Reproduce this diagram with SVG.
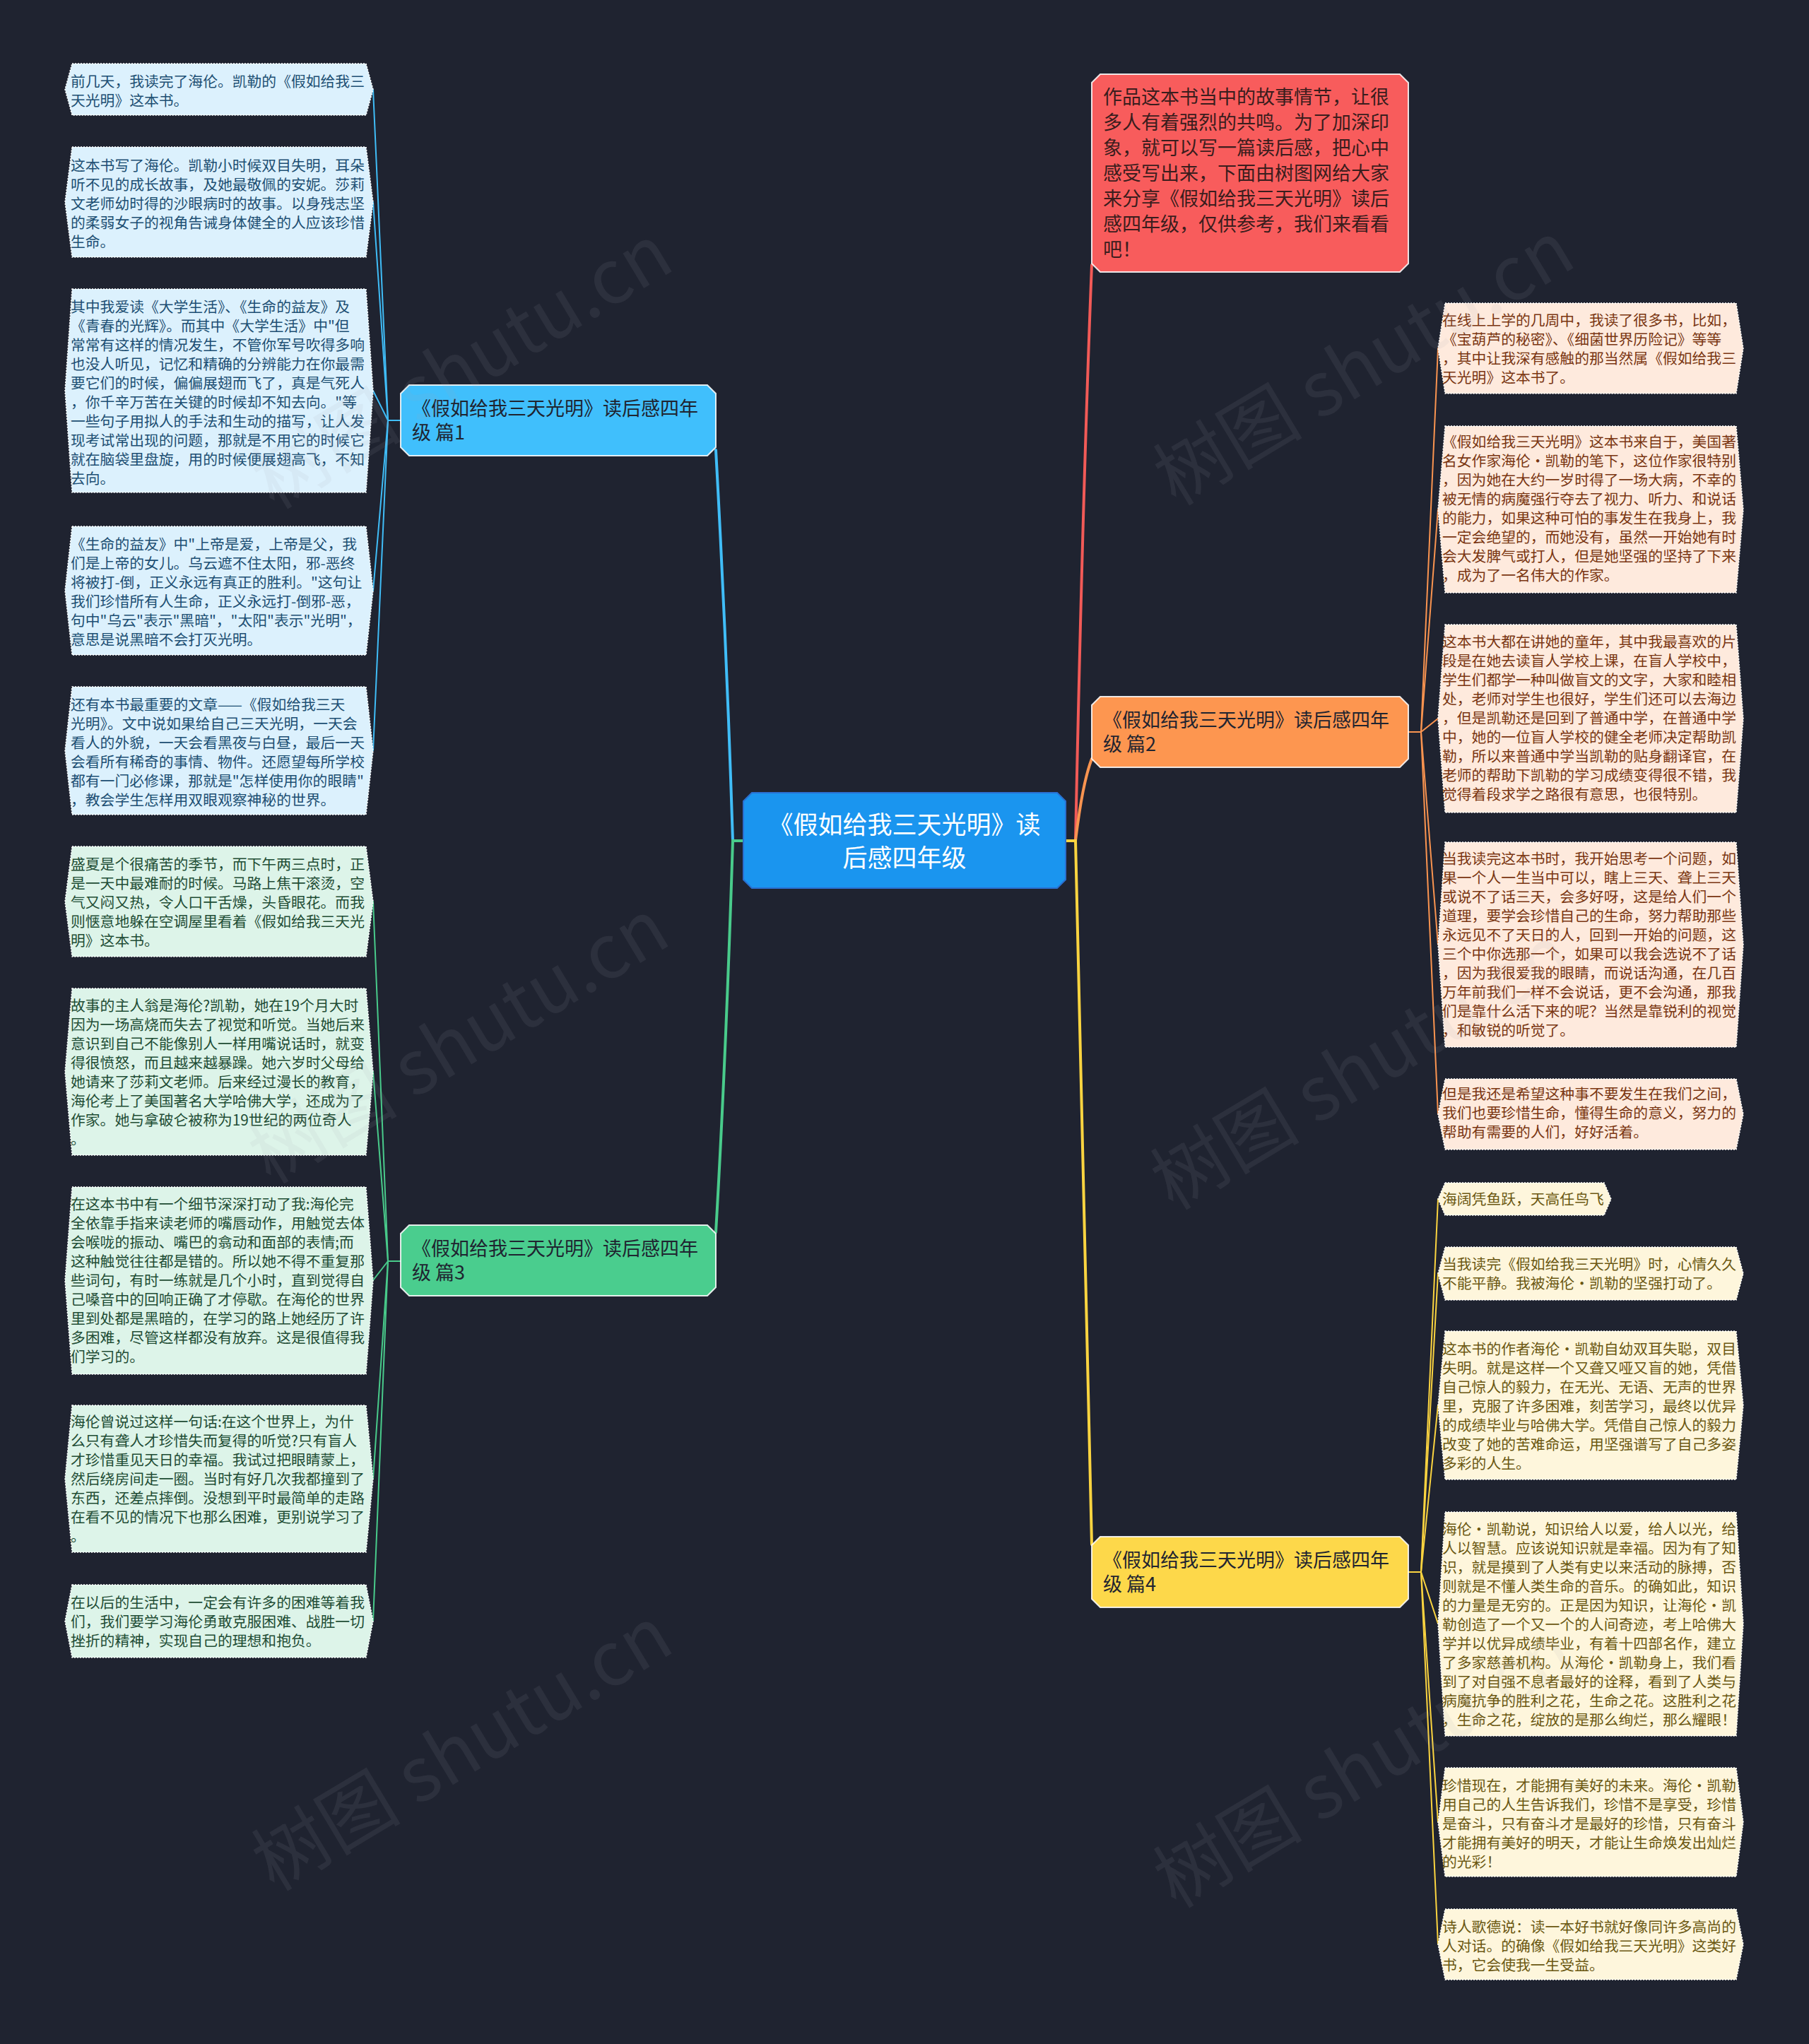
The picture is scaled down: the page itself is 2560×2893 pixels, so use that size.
<svg xmlns="http://www.w3.org/2000/svg" width="2560" height="2893" viewBox="0 0 2560 2893">
<defs>
<style>
text{font-family:"Noto Sans CJK SC","Noto Sans",sans-serif;}
.lf{font-size:20.8px;}
.wm{font-size:106px;fill:#a3aab3;fill-opacity:0.1;font-family:"Noto Sans CJK SC","Noto Sans",sans-serif;}
.leaf{stroke:#ffffff;stroke-width:1.5;stroke-dasharray:2 2;}
.lb{fill:#dcf1fd;} .tb{fill:#1d4f73;}
.lg{fill:#ddf4e9;} .tg{fill:#1f4d35;}
.lo{fill:#feeadd;} .to{fill:#7a3612;}
.ly{fill:#fef6dc;} .ty{fill:#6b5812;}
.br{stroke:#ffffff;stroke-opacity:0.85;stroke-width:2;}
.bt{font-size:27px;fill:#1f2430;}
.c{fill:none;stroke-linecap:round;}
.c1{stroke:#40bdf7;} .c2{stroke:#fa9450;} .c3{stroke:#49cb8b;} .c4{stroke:#fbd440;} .c0{stroke:#f25a57;}
.thick{stroke-width:4;} .thin{stroke-width:2;}
</style>
</defs>
<rect x="0" y="0" width="2560" height="2893" fill="#1f2330"/>

<g id="connectors">
<path class="c c1 thick" d="M1052,1190 H1037 C1031,1000 1022,800 1013,637"/>
<path class="c c3 thick" d="M1052,1190 H1037 C1031,1380 1022,1590 1013,1744"/>
<path class="c c0 thick" d="M1508,1190 H1522 C1528,900 1536,600 1545,375"/>
<path class="c c2 thick" d="M1508,1190 H1522 C1528,1140 1535,1100 1545,1074"/>
<path class="c c4 thick" d="M1508,1190 H1522 C1530,1600 1537,1950 1545,2186"/>

<path class="c c1 thin" d="M567,595 H549 L528,127"/>
<path class="c c1 thin" d="M549,595 L528,286"/>
<path class="c c1 thin" d="M549,595 L528,553"/>
<path class="c c1 thin" d="M549,595 L528,836"/>
<path class="c c1 thin" d="M549,595 L528,1062"/>

<path class="c c3 thin" d="M567,1785 H549 L528,1276"/>
<path class="c c3 thin" d="M549,1785 L528,1517"/>
<path class="c c3 thin" d="M549,1785 L528,1812"/>
<path class="c c3 thin" d="M549,1785 L528,2093"/>
<path class="c c3 thin" d="M549,1785 L528,2294"/>

<path class="c c2 thin" d="M1993,1036 H2011 L2035,493"/>
<path class="c c2 thin" d="M2011,1036 L2035,721"/>
<path class="c c2 thin" d="M2011,1036 L2035,1017"/>
<path class="c c2 thin" d="M2011,1036 L2035,1337"/>
<path class="c c2 thin" d="M2011,1036 L2035,1577"/>

<path class="c c4 thin" d="M1993,2225 H2011 L2035,1697"/>
<path class="c c4 thin" d="M2011,2225 L2035,1802"/>
<path class="c c4 thin" d="M2011,2225 L2035,1989"/>
<path class="c c4 thin" d="M2011,2225 L2035,2298"/>
<path class="c c4 thin" d="M2011,2225 L2035,2579"/>
<path class="c c4 thin" d="M2011,2225 L2035,2752"/>
</g>

<g id="main">
<polygon points="1064,1122 1496,1122 1508,1134 1508,1245 1496,1257 1064,1257 1052,1245 1052,1134" fill="#1a95ef" stroke="#2a6fd0" stroke-width="2"/>
<text x="1280" y="1180" text-anchor="middle" font-size="35" fill="#ffffff"><tspan x="1280">《假如给我三天光明》读</tspan><tspan x="1280" dy="47">后感四年级</tspan></text>
</g>

<g id="intro">
<polygon points="1557,105 1981,105 1993,117 1993,373 1981,385 1557,385 1545,373 1545,117" fill="#f85c5c" class="br"/>
<text x="1561" y="147" font-size="27" fill="#3a1d1d"><tspan x="1561">作品这本书当中的故事情节，让很</tspan><tspan x="1561" dy="36">多人有着强烈的共鸣。为了加深印</tspan><tspan x="1561" dy="36">象，就可以写一篇读后感，把心中</tspan><tspan x="1561" dy="36">感受写出来，下面由树图网给大家</tspan><tspan x="1561" dy="36">来分享《假如给我三天光明》读后</tspan><tspan x="1561" dy="36">感四年级，仅供参考，我们来看看</tspan><tspan x="1561" dy="36">吧！</tspan></text>
</g>

<g id="branch1">
<polygon points="579,545 1001,545 1013,557 1013,633 1001,645 579,645 567,633 567,557" fill="#40bffc" class="br"/>
<text class="bt" x="583" y="588"><tspan x="583">《假如给我三天光明》读后感四年</tspan><tspan x="583" dy="34">级 篇1</tspan></text>
</g>
<g id="branch2">
<polygon points="1557,986 1981,986 1993,998 1993,1074 1981,1086 1557,1086 1545,1074 1545,998" fill="#fd9650" class="br"/>
<text class="bt" x="1561" y="1029"><tspan x="1561">《假如给我三天光明》读后感四年</tspan><tspan x="1561" dy="34">级 篇2</tspan></text>
</g>
<g id="branch3">
<polygon points="579,1734 1001,1734 1013,1746 1013,1822 1001,1834 579,1834 567,1822 567,1746" fill="#4acd8e" class="br"/>
<text class="bt" x="583" y="1777"><tspan x="583">《假如给我三天光明》读后感四年</tspan><tspan x="583" dy="34">级 篇3</tspan></text>
</g>
<g id="branch4">
<polygon points="1557,2175 1981,2175 1993,2187 1993,2263 1981,2275 1557,2275 1545,2263 1545,2187" fill="#fdd84a" class="br"/>
<text class="bt" x="1561" y="2218"><tspan x="1561">《假如给我三天光明》读后感四年</tspan><tspan x="1561" dy="34">级 篇4</tspan></text>
</g>

<g id="leaf-b1">
<polygon class="leaf lb" points="102,90 518,90 528,126.5 518,163 102,163 92,126.5"/>
<text class="lf tb" x="100" y="123"><tspan x="100">前几天，我读完了海伦。凯勒的《假如给我三</tspan><tspan x="100" dy="27">天光明》这本书。</tspan></text>
</g>
<g id="leaf-b2">
<polygon class="leaf lb" points="102,208 518,208 528,286 518,364 102,364 92,286"/>
<text class="lf tb" x="100" y="242"><tspan x="100">这本书写了海伦。凯勒小时候双目失明，耳朵</tspan><tspan x="100" dy="27">听不见的成长故事，及她最敬佩的安妮。莎莉</tspan><tspan x="100" dy="27">文老师幼时得的沙眼病时的故事。以身残志坚</tspan><tspan x="100" dy="27">的柔弱女子的视角告诫身体健全的人应该珍惜</tspan><tspan x="100" dy="27">生命。</tspan></text>
</g>
<g id="leaf-b3">
<polygon class="leaf lb" points="102,409 518,409 528,553 518,697 102,697 92,553"/>
<text class="lf tb" x="100" y="442"><tspan x="100">其中我爱读《大学生活》、《生命的益友》及</tspan><tspan x="100" dy="27">《青春的光辉》。而其中《大学生活》中"但</tspan><tspan x="100" dy="27">常常有这样的情况发生，不管你军号吹得多响</tspan><tspan x="100" dy="27">也没人听见，记忆和精确的分辨能力在你最需</tspan><tspan x="100" dy="27">要它们的时候，偏偏展翅而飞了，真是气死人</tspan><tspan x="100" dy="27">，你千辛万苦在关键的时候却不知去向。"等</tspan><tspan x="100" dy="27">一些句子用拟人的手法和生动的描写，让人发</tspan><tspan x="100" dy="27">现考试常出现的问题，那就是不用它的时候它</tspan><tspan x="100" dy="27">就在脑袋里盘旋，用的时候便展翅高飞，不知</tspan><tspan x="100" dy="27">去向。</tspan></text>
</g>
<g id="leaf-b4">
<polygon class="leaf lb" points="102,745 518,745 528,836 518,927 102,927 92,836"/>
<text class="lf tb" x="100" y="778"><tspan x="100">《生命的益友》中"上帝是爱，上帝是父，我</tspan><tspan x="100" dy="27">们是上帝的女儿。乌云遮不住太阳，邪-恶终</tspan><tspan x="100" dy="27">将被打-倒，正义永远有真正的胜利。"这句让</tspan><tspan x="100" dy="27">我们珍惜所有人生命，正义永远打-倒邪-恶，</tspan><tspan x="100" dy="27">句中"乌云"表示"黑暗"，"太阳"表示"光明"，</tspan><tspan x="100" dy="27">意思是说黑暗不会打灭光明。</tspan></text>
</g>
<g id="leaf-b5">
<polygon class="leaf lb" points="102,972 518,972 528,1062.5 518,1153 102,1153 92,1062.5"/>
<text class="lf tb" x="100" y="1005"><tspan x="100">还有本书最重要的文章——《假如给我三天</tspan><tspan x="100" dy="27">光明》。文中说如果给自己三天光明，一天会</tspan><tspan x="100" dy="27">看人的外貌，一天会看黑夜与白昼，最后一天</tspan><tspan x="100" dy="27">会看所有稀奇的事情、物件。还愿望每所学校</tspan><tspan x="100" dy="27">都有一门必修课，那就是"怎样使用你的眼睛"</tspan><tspan x="100" dy="27">，教会学生怎样用双眼观察神秘的世界。</tspan></text>
</g>

<g id="leaf-g1">
<polygon class="leaf lg" points="102,1198 518,1198 528,1276 518,1354 102,1354 92,1276"/>
<text class="lf tg" x="100" y="1231"><tspan x="100">盛夏是个很痛苦的季节，而下午两三点时，正</tspan><tspan x="100" dy="27">是一天中最难耐的时候。马路上焦干滚烫，空</tspan><tspan x="100" dy="27">气又闷又热，令人口干舌燥，头昏眼花。而我</tspan><tspan x="100" dy="27">则惬意地躲在空调屋里看着《假如给我三天光</tspan><tspan x="100" dy="27">明》这本书。</tspan></text>
</g>
<g id="leaf-g2">
<polygon class="leaf lg" points="102,1399 518,1399 528,1517 518,1635 102,1635 92,1517"/>
<text class="lf tg" x="100" y="1431"><tspan x="100">故事的主人翁是海伦?凯勒，她在19个月大时</tspan><tspan x="100" dy="27">因为一场高烧而失去了视觉和听觉。当她后来</tspan><tspan x="100" dy="27">意识到自己不能像别人一样用嘴说话时，就变</tspan><tspan x="100" dy="27">得很愤怒，而且越来越暴躁。她六岁时父母给</tspan><tspan x="100" dy="27">她请来了莎莉文老师。后来经过漫长的教育，</tspan><tspan x="100" dy="27">海伦考上了美国著名大学哈佛大学，还成为了</tspan><tspan x="100" dy="27">作家。她与拿破仑被称为19世纪的两位奇人</tspan><tspan x="100" dy="27">。</tspan></text>
</g>
<g id="leaf-g3">
<polygon class="leaf lg" points="102,1680 518,1680 528,1812.5 518,1945 102,1945 92,1812.5"/>
<text class="lf tg" x="100" y="1712"><tspan x="100">在这本书中有一个细节深深打动了我:海伦完</tspan><tspan x="100" dy="27">全依靠手指来读老师的嘴唇动作，用触觉去体</tspan><tspan x="100" dy="27">会喉咙的振动、嘴巴的翕动和面部的表情;而</tspan><tspan x="100" dy="27">这种触觉往往都是错的。所以她不得不重复那</tspan><tspan x="100" dy="27">些词句，有时一练就是几个小时，直到觉得自</tspan><tspan x="100" dy="27">己嗓音中的回响正确了才停歇。在海伦的世界</tspan><tspan x="100" dy="27">里到处都是黑暗的，在学习的路上她经历了许</tspan><tspan x="100" dy="27">多困难，尽管这样都没有放弃。这是很值得我</tspan><tspan x="100" dy="27">们学习的。</tspan></text>
</g>
<g id="leaf-g4">
<polygon class="leaf lg" points="102,1989 518,1989 528,2093 518,2197 102,2197 92,2093"/>
<text class="lf tg" x="100" y="2020"><tspan x="100">海伦曾说过这样一句话:在这个世界上，为什</tspan><tspan x="100" dy="27">么只有聋人才珍惜失而复得的听觉?只有盲人</tspan><tspan x="100" dy="27">才珍惜重见天日的幸福。我试过把眼睛蒙上，</tspan><tspan x="100" dy="27">然后绕房间走一圈。当时有好几次我都撞到了</tspan><tspan x="100" dy="27">东西，还差点摔倒。没想到平时最简单的走路</tspan><tspan x="100" dy="27">在看不见的情况下也那么困难，更别说学习了</tspan><tspan x="100" dy="27">。</tspan></text>
</g>
<g id="leaf-g5">
<polygon class="leaf lg" points="102,2243 518,2243 528,2294.5 518,2346 102,2346 92,2294.5"/>
<text class="lf tg" x="100" y="2276"><tspan x="100">在以后的生活中，一定会有许多的困难等着我</tspan><tspan x="100" dy="27">们，我们要学习海伦勇敢克服困难、战胜一切</tspan><tspan x="100" dy="27">挫折的精神，实现自己的理想和抱负。</tspan></text>
</g>

<g id="leaf-o1">
<polygon class="leaf lo" points="2045,429 2457,429 2467,493 2457,557 2045,557 2035,493"/>
<text class="lf to" x="2041" y="461"><tspan x="2041">在线上上学的几周中，我读了很多书，比如，</tspan><tspan x="2041" dy="27">《宝葫芦的秘密》、《细菌世界历险记》等等</tspan><tspan x="2041" dy="27">，其中让我深有感触的那当然属《假如给我三</tspan><tspan x="2041" dy="27">天光明》这本书了。</tspan></text>
</g>
<g id="leaf-o2">
<polygon class="leaf lo" points="2045,603 2457,603 2467,721 2457,839 2045,839 2035,721"/>
<text class="lf to" x="2041" y="633"><tspan x="2041">《假如给我三天光明》这本书来自于，美国著</tspan><tspan x="2041" dy="27">名女作家海伦·凯勒的笔下，这位作家很特别</tspan><tspan x="2041" dy="27">，因为她在大约一岁时得了一场大病，不幸的</tspan><tspan x="2041" dy="27">被无情的病魔强行夺去了视力、听力、和说话</tspan><tspan x="2041" dy="27">的能力，如果这种可怕的事发生在我身上，我</tspan><tspan x="2041" dy="27">一定会绝望的，而她没有，虽然一开始她有时</tspan><tspan x="2041" dy="27">会大发脾气或打人，但是她坚强的坚持了下来</tspan><tspan x="2041" dy="27">，成为了一名伟大的作家。</tspan></text>
</g>
<g id="leaf-o3">
<polygon class="leaf lo" points="2045,884 2457,884 2467,1017 2457,1150 2045,1150 2035,1017"/>
<text class="lf to" x="2041" y="916"><tspan x="2041">这本书大都在讲她的童年，其中我最喜欢的片</tspan><tspan x="2041" dy="27">段是在她去读盲人学校上课，在盲人学校中，</tspan><tspan x="2041" dy="27">学生们都学一种叫做盲文的文字，大家和睦相</tspan><tspan x="2041" dy="27">处，老师对学生也很好，学生们还可以去海边</tspan><tspan x="2041" dy="27">，但是凯勒还是回到了普通中学，在普通中学</tspan><tspan x="2041" dy="27">中，她的一位盲人学校的健全老师决定帮助凯</tspan><tspan x="2041" dy="27">勒，所以来普通中学当凯勒的贴身翻译官，在</tspan><tspan x="2041" dy="27">老师的帮助下凯勒的学习成绩变得很不错，我</tspan><tspan x="2041" dy="27">觉得着段求学之路很有意思，也很特别。</tspan></text>
</g>
<g id="leaf-o4">
<polygon class="leaf lo" points="2045,1192 2457,1192 2467,1337 2457,1482 2045,1482 2035,1337"/>
<text class="lf to" x="2041" y="1223"><tspan x="2041">当我读完这本书时，我开始思考一个问题，如</tspan><tspan x="2041" dy="27">果一个人一生当中可以，瞎上三天、聋上三天</tspan><tspan x="2041" dy="27">或说不了话三天，会多好呀，这是给人们一个</tspan><tspan x="2041" dy="27">道理，要学会珍惜自己的生命，努力帮助那些</tspan><tspan x="2041" dy="27">永远见不了天日的人，回到一开始的问题，这</tspan><tspan x="2041" dy="27">三个中你选那一个，如果可以我会选说不了话</tspan><tspan x="2041" dy="27">，因为我很爱我的眼睛，而说话沟通，在几百</tspan><tspan x="2041" dy="27">万年前我们一样不会说话，更不会沟通，那我</tspan><tspan x="2041" dy="27">们是靠什么活下来的呢？当然是靠锐利的视觉</tspan><tspan x="2041" dy="27">，和敏锐的听觉了。</tspan></text>
</g>
<g id="leaf-o5">
<polygon class="leaf lo" points="2045,1527 2457,1527 2467,1577 2457,1627 2045,1627 2035,1577"/>
<text class="lf to" x="2041" y="1556"><tspan x="2041">但是我还是希望这种事不要发生在我们之间，</tspan><tspan x="2041" dy="27">我们也要珍惜生命，懂得生命的意义，努力的</tspan><tspan x="2041" dy="27">帮助有需要的人们，好好活着。</tspan></text>
</g>

<g id="leaf-y1">
<polygon class="leaf ly" points="2045,1674 2270,1674 2280,1697 2270,1720 2045,1720 2035,1697"/>
<text class="lf ty" x="2041" y="1705">海阔凭鱼跃，天高任鸟飞</text>
</g>
<g id="leaf-y2">
<polygon class="leaf ly" points="2045,1765 2457,1765 2467,1802.5 2457,1840 2045,1840 2035,1802.5"/>
<text class="lf ty" x="2041" y="1797"><tspan x="2041">当我读完《假如给我三天光明》时，心情久久</tspan><tspan x="2041" dy="27">不能平静。我被海伦•凯勒的坚强打动了。</tspan></text>
</g>
<g id="leaf-y3">
<polygon class="leaf ly" points="2045,1884 2457,1884 2467,1989 2457,2094 2045,2094 2035,1989"/>
<text class="lf ty" x="2041" y="1917"><tspan x="2041">这本书的作者海伦•凯勒自幼双耳失聪，双目</tspan><tspan x="2041" dy="27">失明。就是这样一个又聋又哑又盲的她，凭借</tspan><tspan x="2041" dy="27">自己惊人的毅力，在无光、无语、无声的世界</tspan><tspan x="2041" dy="27">里，克服了许多困难，刻苦学习，最终以优异</tspan><tspan x="2041" dy="27">的成绩毕业与哈佛大学。凭借自己惊人的毅力</tspan><tspan x="2041" dy="27">改变了她的苦难命运，用坚强谱写了自己多姿</tspan><tspan x="2041" dy="27">多彩的人生。</tspan></text>
</g>
<g id="leaf-y4">
<polygon class="leaf ly" points="2045,2140 2457,2140 2467,2298.5 2457,2457 2045,2457 2035,2298.5"/>
<text class="lf ty" x="2041" y="2172"><tspan x="2041">海伦•凯勒说，知识给人以爱，给人以光，给</tspan><tspan x="2041" dy="27">人以智慧。应该说知识就是幸福。因为有了知</tspan><tspan x="2041" dy="27">识，就是摸到了人类有史以来活动的脉搏，否</tspan><tspan x="2041" dy="27">则就是不懂人类生命的音乐。的确如此，知识</tspan><tspan x="2041" dy="27">的力量是无穷的。正是因为知识，让海伦•凯</tspan><tspan x="2041" dy="27">勒创造了一个又一个的人间奇迹，考上哈佛大</tspan><tspan x="2041" dy="27">学并以优异成绩毕业，有着十四部名作，建立</tspan><tspan x="2041" dy="27">了多家慈善机构。从海伦•凯勒身上，我们看</tspan><tspan x="2041" dy="27">到了对自强不息者最好的诠释，看到了人类与</tspan><tspan x="2041" dy="27">病魔抗争的胜利之花，生命之花。这胜利之花</tspan><tspan x="2041" dy="27">，生命之花，绽放的是那么绚烂，那么耀眼！</tspan></text>
</g>
<g id="leaf-y5">
<polygon class="leaf ly" points="2045,2502 2457,2502 2467,2579 2457,2656 2045,2656 2035,2579"/>
<text class="lf ty" x="2041" y="2535"><tspan x="2041">珍惜现在，才能拥有美好的未来。海伦•凯勒</tspan><tspan x="2041" dy="27">用自己的人生告诉我们，珍惜不是享受，珍惜</tspan><tspan x="2041" dy="27">是奋斗，只有奋斗才是最好的珍惜，只有奋斗</tspan><tspan x="2041" dy="27">才能拥有美好的明天，才能让生命焕发出灿烂</tspan><tspan x="2041" dy="27">的光彩！</tspan></text>
</g>
<g id="leaf-y6">
<polygon class="leaf ly" points="2045,2702 2457,2702 2467,2752 2457,2802 2045,2802 2035,2752"/>
<text class="lf ty" x="2041" y="2735"><tspan x="2041">诗人歌德说：读一本好书就好像同许多高尚的</tspan><tspan x="2041" dy="27">人对话。的确像《假如给我三天光明》这类好</tspan><tspan x="2041" dy="27">书，它会使我一生受益。</tspan></text>
</g>

<g id="watermarks">
<text class="wm" x="673" y="551" text-anchor="middle" transform="rotate(-31 673 551)">树图 shutu.cn</text>
<text class="wm" x="1949" y="546" text-anchor="middle" transform="rotate(-31 1949 546)">树图 shutu.cn</text>
<text class="wm" x="668" y="1506" text-anchor="middle" transform="rotate(-31 668 1506)">树图 shutu.cn</text>
<text class="wm" x="1945" y="1543" text-anchor="middle" transform="rotate(-31 1945 1543)">树图 shutu.cn</text>
<text class="wm" x="673" y="2507" text-anchor="middle" transform="rotate(-31 673 2507)">树图 shutu.cn</text>
<text class="wm" x="1949" y="2531" text-anchor="middle" transform="rotate(-31 1949 2531)">树图 shutu.cn</text>
</g>
</svg>
